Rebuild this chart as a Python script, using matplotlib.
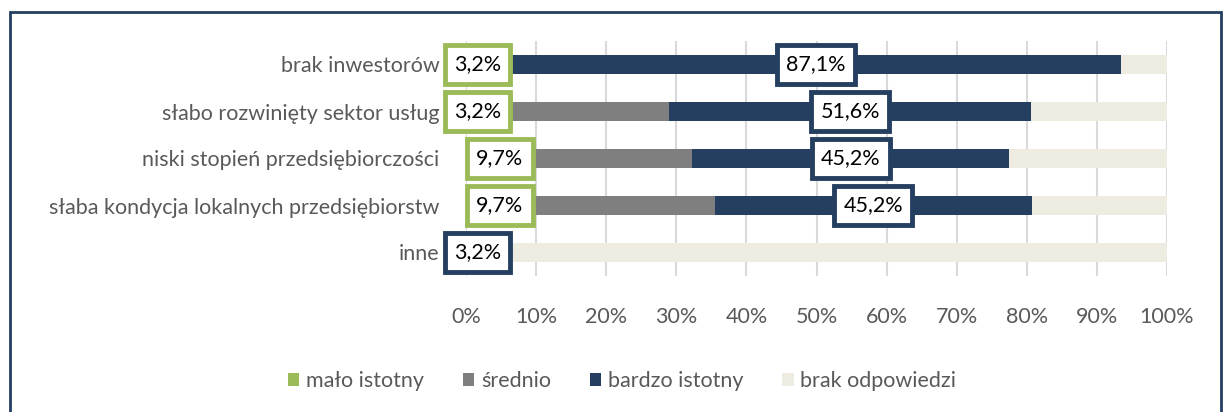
import matplotlib
matplotlib.use("Agg")
import matplotlib.pyplot as plt
from matplotlib.patches import Rectangle

plt.rcParams['font.family'] = ['Lato', 'DejaVu Sans']

categories = ["brak inwestorów", "słabo rozwinięty sektor usług",
              "niski stopień przedsiębiorczości",
              "słaba kondycja lokalnych przedsiębiorstw", "inne"]
malo = [3.2, 3.2, 9.7, 9.7, 0.0]
srednio = [3.2, 25.8, 22.6, 25.8, 0.0]
bardzo = [87.1, 51.6, 45.2, 45.2, 3.2]
brak = [6.5, 19.4, 22.5, 19.3, 96.8]
series_names = ["mało istotny", "średnio", "bardzo istotny", "brak odpowiedzi"]
ticks = [0, 10, 20, 30, 40, 50, 60, 70, 80, 90, 100]

colors = ["#9BBB59", "#7F7F7F", "#243F60", "#EEECE1"]
text_color = "#595959"
fs = 15.5

fig = plt.figure(figsize=(12.23, 4.12), dpi=100)
ax = fig.add_axes([466 / 1223, 1 - 276 / 412, 701 / 1223, 235 / 412])

y = list(range(len(categories)))
left = [0.0] * len(categories)
for vals, name, col in zip([malo, srednio, bardzo, brak], series_names, colors):
    ax.barh(y, vals, left=left, height=0.42, color=col, label=name, zorder=2)
    left = [a + b for a, b in zip(left, vals)]

# data labels: mało istotny and bardzo istotny
def box_label(xc, yc, val, edge):
    ax.text(xc, yc, f"{val:.1f}%".replace(".", ","), ha="center", va="center",
            fontsize=fs, color="black", zorder=5, clip_on=False,
            bbox=dict(boxstyle="square,pad=0.42", fc="white", ec=edge, lw=3.5))

for i in range(len(categories)):
    if malo[i] > 0:
        box_label(malo[i] / 2, i, malo[i], colors[0])
    if bardzo[i] > 0:
        start = malo[i] + srednio[i]
        box_label(start + bardzo[i] / 2, i, bardzo[i], colors[2])

ax.set_xlim(0, 100)
ax.set_ylim(len(categories) - 0.5, -0.5)
ax.set_yticks(y)
ax.set_yticklabels(categories, fontsize=fs, color=text_color)
ax.set_xticks(ticks)
ax.set_xticklabels([f"{t}%" for t in ticks], fontsize=fs, color=text_color)
ax.tick_params(axis="both", length=0)
ax.tick_params(axis="x", pad=22)
ax.tick_params(axis="y", pad=19)
ax.grid(axis="x", color="#D9D9D9", lw=1.5, zorder=0)
for s in ax.spines.values():
    s.set_visible(False)

fig.legend(loc="center", bbox_to_anchor=(622 / 1223, 1 - 381 / 412), ncol=4,
           frameon=False, fontsize=fs, handlelength=0.55, handleheight=0.55,
           handletextpad=0.3, columnspacing=1.8, labelcolor=text_color)

frame = Rectangle((10 / 1223, -0.05), 1211 / 1223, 1.05 - 12 / 412,
                  transform=fig.transFigure, fill=False, ec="#243F60", lw=2)
fig.patches.append(frame)

fig.savefig("out.png", dpi=100)
